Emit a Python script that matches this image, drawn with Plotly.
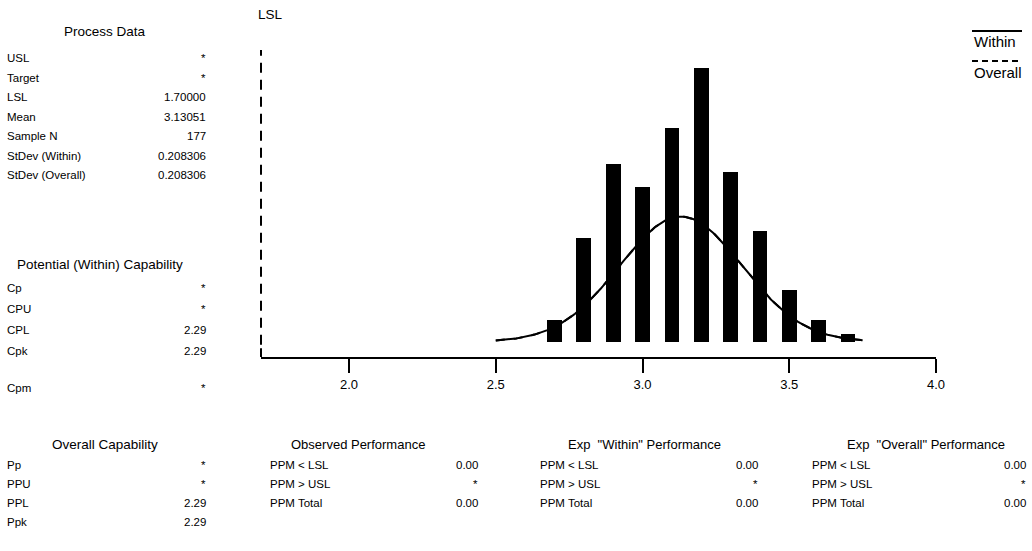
import numpy as np
import plotly.graph_objects as go

# ---------------- data ----------------
bin_centers = [2.7, 2.8, 2.9, 3.0, 3.1, 3.2, 3.3, 3.4, 3.5, 3.6, 3.7]
counts = [3, 14, 24, 21, 29, 37, 23, 15, 7, 3, 1]
bin_width = 0.05

LSL = 1.70
MEAN = 3.13051
N = 177
STDEV_WITHIN = 0.208306
STDEV_OVERALL = 0.208306
curve_range = [2.5, 3.75]

x_ticks = [2.0, 2.5, 3.0, 3.5, 4.0]
x_tick_labels = ["2.0", "2.5", "3.0", "3.5", "4.0"]

process_labels = ["USL", "Target", "LSL", "Mean", "Sample N", "StDev (Within)", "StDev (Overall)"]
process_values = ["*", "*", "1.70000", "3.13051", "177", "0.208306", "0.208306"]

potential_labels = ["Cp", "CPU", "CPL", "Cpk"]
potential_values = ["*", "*", "2.29", "2.29"]
cpm_label, cpm_value = "Cpm", "*"

overall_labels = ["Pp", "PPU", "PPL", "Ppk"]
overall_values = ["*", "*", "2.29", "2.29"]

perf_titles = ["Observed Performance", "Exp  \"Within\" Performance", "Exp  \"Overall\" Performance"]
perf_labels = ["PPM < LSL", "PPM > USL", "PPM Total"]
perf_values = [["0.00", "*", "0.00"], ["0.00", "*", "0.00"], ["0.00", "*", "0.00"]]

# ---------------- layout geometry (pixels) ----------------
W, H = 1032, 551
PX0, PX1, PY0, PY1 = 261, 936, 50, 357
FONT = "Liberation Sans, Arial, sans-serif"
y_min, y_max = -2.07, 39.5


def px(x):
    return (x - PX0) / (PX1 - PX0)


def py(y):
    return (PY1 - y) / (PY1 - PY0)


def ydom(v):
    return (v - y_min) / (y_max - y_min)


fig = go.Figure()

fig.add_trace(go.Bar(x=bin_centers, y=counts, width=bin_width,
                     marker=dict(color="black", line=dict(width=0)),
                     showlegend=False, hoverinfo="x+y"))

xs = np.linspace(curve_range[0], curve_range[1], 200)
scale = N * bin_width
y_within = scale * np.exp(-0.5 * ((xs - MEAN) / STDEV_WITHIN) ** 2) / (STDEV_WITHIN * np.sqrt(2 * np.pi))
y_overall = scale * np.exp(-0.5 * ((xs - MEAN) / STDEV_OVERALL) ** 2) / (STDEV_OVERALL * np.sqrt(2 * np.pi))
fig.add_trace(go.Scatter(x=xs, y=y_within, mode="lines", line=dict(color="black", width=2),
                         showlegend=False, name="Within"))
fig.add_trace(go.Scatter(x=xs, y=y_overall, mode="lines", line=dict(color="black", width=2, dash="dash"),
                         showlegend=False, name="Overall"))

# LSL dashed line (x range starts at LSL) and short solid stub at the axis corner
fig.add_shape(type="line", xref="x domain", yref="y domain", x0=0, x1=0, y0=ydom(-0.4), y1=1,
              line=dict(color="black", width=2, dash="10px,7px"))
fig.add_shape(type="line", xref="x domain", yref="y domain", x0=0, x1=0, y0=0, y1=ydom(-0.9),
              line=dict(color="black", width=2))

ann = []


def text(x, y, s, anchor="left", size=11.5):
    ann.append(dict(x=px(x), y=py(y), xref="paper", yref="paper", text=s, showarrow=False,
                    xanchor=anchor, yanchor="middle", font=dict(family=FONT, size=size, color="black")))


text(270, 15, "LSL", "center", 13.5)

# Process data
text(105, 32, "Process Data", "center", 13.5)
rows_y = [58, 77.5, 97, 116.5, 136, 155.5, 175]
for lab, val, yy in zip(process_labels, process_values, rows_y):
    text(5, yy, lab)
    text(208, yy, val, "right")

text(100, 264, "Potential (Within) Capability", "center", 13.5)
for lab, val, yy in zip(potential_labels, potential_values, [288, 309, 330, 351]):
    text(5, yy, lab)
    text(208, yy, val, "right")
text(5, 388, cpm_label)
text(208, 388, cpm_value, "right")

text(105, 444, "Overall Capability", "center", 13.5)
for lab, val, yy in zip(overall_labels, overall_values, [465, 484, 503, 522]):
    text(5, yy, lab)
    text(208, yy, val, "right")

# Performance tables
groups = [(268, 480, 358), (538, 760, 644), (810, 1028, 926)]
for (lx, rx, cx), title, vals in zip(groups, perf_titles, perf_values):
    text(cx, 444, title, "center", 13)
    for lab, val, yy in zip(perf_labels, vals, [465, 484, 503]):
        text(lx, yy, lab)
        text(rx, yy, val, "right")

# Legend
fig.add_shape(type="line", xref="paper", yref="paper", x0=px(972), x1=px(1022), y0=py(31), y1=py(31),
              line=dict(color="black", width=2))
text(972, 41, "Within", "left", 15)
fig.add_shape(type="line", xref="paper", yref="paper", x0=px(972), x1=px(1022), y0=py(61), y1=py(61),
              line=dict(color="black", width=2.2, dash="6px,4px"))
text(972, 72, "Overall", "left", 15)

fig.update_layout(
    width=W, height=H,
    margin=dict(l=PX0, r=W - PX1, t=PY0, b=H - PY1),
    paper_bgcolor="white", plot_bgcolor="white",
    annotations=ann, bargap=0,
    xaxis=dict(range=[LSL, 4.0], tickvals=x_ticks, ticktext=x_tick_labels,
               showline=True, linecolor="black", linewidth=2, ticks="outside", ticklen=14,
               tickwidth=2, tickcolor="black", showgrid=False, zeroline=False,
               tickfont=dict(family=FONT, size=13, color="black")),
    yaxis=dict(range=[y_min, y_max], visible=False, showgrid=False, zeroline=False),
    showlegend=False,
)

fig.write_html("out.html", config={"displayModeBar": False},
               post_script="document.body.style.margin='0';document.body.style.overflow='hidden';")
